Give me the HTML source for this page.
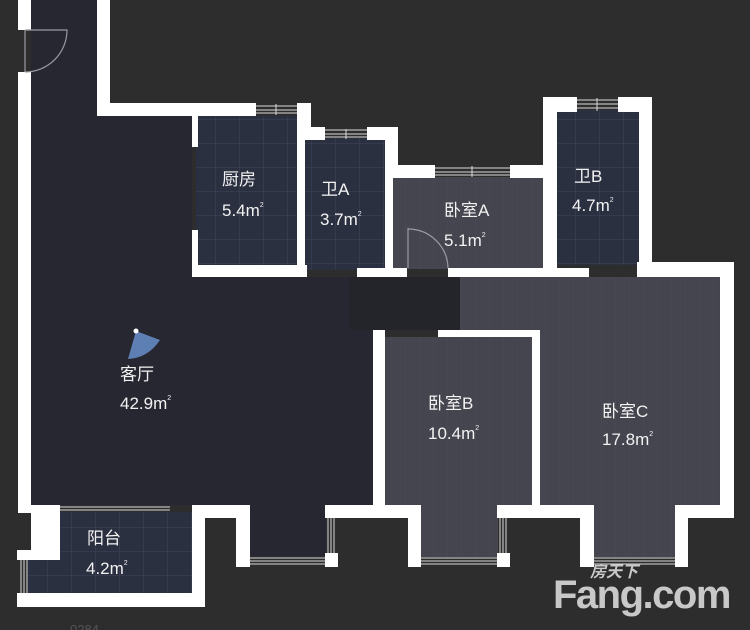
<!DOCTYPE html>
<html><head><meta charset="utf-8"><style>
html,body{margin:0;padding:0;background:#2d2d2e;}
svg{display:block}
text{font-family:"Liberation Sans","Noto Sans CJK SC",sans-serif;fill:#f2f2f2;font-size:17px}
</style></head><body>
<svg width="750" height="630" viewBox="0 0 750 630" xmlns="http://www.w3.org/2000/svg">
<defs>
<pattern id="grid" width="24" height="24" patternUnits="userSpaceOnUse">
<rect width="24" height="24" fill="#2b3041"/>
<path d="M24 0V24M0 24H24" stroke="#3b4052" stroke-width="1.2"/>
</pattern>
<pattern id="wood" width="14" height="40" patternUnits="userSpaceOnUse">
<rect width="14" height="40" fill="#45454f"/>
<path d="M14 0V40" stroke="#4c4c57" stroke-width="1"/>
</pattern>
</defs>
<rect width="750" height="630" fill="#2d2d2e"/>
<path d="M31 0H97V116H192V277H460V330H373V505H250V556H326V505H31Z" fill="#272731"/>
<rect x="31" y="0" width="66" height="116" fill="#272731"/>
<rect x="350" y="277" width="110" height="53" fill="#24242b"/>
<rect x="196" y="116" width="102" height="152" fill="url(#grid)"/>
<rect x="305" y="138" width="82" height="132" fill="url(#grid)"/>
<rect x="557" y="110" width="83" height="155" fill="url(#grid)"/>
<rect x="60" y="512" width="133" height="82" fill="url(#grid)"/>
<rect x="28" y="558" width="34" height="36" fill="url(#grid)"/>
<rect x="392" y="177" width="158" height="92" fill="url(#wood)"/>
<rect x="381" y="337" width="152" height="170" fill="url(#wood)"/>
<rect x="421" y="505" width="77" height="52" fill="url(#wood)"/>
<path d="M460 277H720V505H540V330H460Z" fill="url(#wood)"/>
<rect x="594" y="505" width="82" height="52" fill="url(#wood)"/>
<g fill="#ffffff">
<rect x="18" y="0" width="13" height="30"/>
<rect x="18" y="72" width="13" height="441"/>
<rect x="31" y="505" width="29" height="55"/>
<rect x="17" y="550" width="43" height="10"/>
<rect x="17" y="593" width="188" height="14"/>
<rect x="192" y="505" width="13" height="102"/>
<rect x="205" y="505" width="45" height="13"/>
<rect x="236" y="505" width="14" height="62"/>
<rect x="325" y="505" width="96" height="13"/>
<rect x="325" y="553" width="13" height="14"/>
<rect x="408" y="505" width="13" height="62"/>
<rect x="497" y="505" width="97" height="13"/>
<rect x="497" y="553" width="13" height="14"/>
<rect x="580" y="505" width="14" height="62"/>
<rect x="675" y="505" width="59" height="13"/>
<rect x="675" y="505" width="13" height="62"/>
<rect x="720" y="262" width="14" height="256"/>
<rect x="97" y="0" width="13" height="116"/>
<rect x="97" y="103" width="159" height="13"/>
<rect x="297" y="103" width="14" height="37"/>
<rect x="297" y="103" width="8" height="174"/>
<rect x="297" y="127" width="28" height="13"/>
<rect x="367" y="127" width="31" height="13"/>
<rect x="385" y="127" width="13" height="51"/>
<rect x="385" y="127" width="8" height="150"/>
<rect x="385" y="165" width="50" height="13"/>
<rect x="510" y="165" width="47" height="13"/>
<rect x="543" y="97" width="14" height="180"/>
<rect x="543" y="97" width="34" height="15"/>
<rect x="618" y="97" width="34" height="15"/>
<rect x="639" y="97" width="13" height="178"/>
<rect x="637" y="262" width="97" height="15"/>
<rect x="192" y="116" width="6" height="31"/>
<rect x="192" y="230" width="6" height="47"/>
<rect x="192" y="265" width="115" height="12"/>
<rect x="357" y="268" width="50" height="9"/>
<rect x="448" y="268" width="141" height="9"/>
<rect x="373" y="330" width="12" height="178"/>
<rect x="438" y="330" width="102" height="7"/>
<rect x="532" y="330" width="8" height="178"/>
</g>
<g stroke="#dcdcdc" stroke-width="1" fill="none">
<path d="M256 106H297M256 110H297M256 113H297M276 104V115"/>
<path d="M325 130H367M325 134H367M325 137H367M346 129V139"/>
<path d="M435 168H510M435 172H510M435 175H510M472 166V177"/>
<path d="M577 100H618M577 104H618M577 108H618M597 98V111"/>
<path d="M250 558H325M250 561H325M250 564H325"/>
<path d="M328 518V553M331 518V553M334 518V553"/>
<path d="M421 558H497M421 561H497M421 564H497"/>
<path d="M500 518V553M503 518V553M506 518V553"/>
<path d="M594 558H675M594 561H675M594 564H675"/>
<path d="M60 507H170M60 510H170"/>
<path d="M21 560V593M24 560V593M27 560V593"/>
</g>
<g stroke="#9a9aa2" stroke-width="1.2" fill="none">
<path d="M25 30V72"/><path d="M25 30H67A42 42 0 0 1 25 72"/>
<path d="M408 228V268"/><path d="M408 229A40 40 0 0 1 448 268"/>
</g>
<path d="M136 331L128 359Q148 358 160 340Z" fill="#5e7fb4"/>
<circle cx="136" cy="331" r="2.5" fill="#fff"/>
<text x="222" y="185">厨房</text><text x="222" y="216">5.4m<tspan font-size="7" dy="-9">2</tspan></text>
<text x="321" y="195">卫A</text><text x="320" y="225">3.7m<tspan font-size="7" dy="-9">2</tspan></text>
<text x="444" y="216">卧室A</text><text x="444" y="246">5.1m<tspan font-size="7" dy="-9">2</tspan></text>
<text x="574" y="182">卫B</text><text x="572" y="211">4.7m<tspan font-size="7" dy="-9">2</tspan></text>
<text x="120" y="380">客厅</text><text x="120" y="409">42.9m<tspan font-size="7" dy="-9">2</tspan></text>
<text x="428" y="409">卧室B</text><text x="428" y="439">10.4m<tspan font-size="7" dy="-9">2</tspan></text>
<text x="602" y="417">卧室C</text><text x="602" y="445">17.8m<tspan font-size="7" dy="-9">2</tspan></text>
<text x="87" y="544">阳台</text><text x="86" y="574">4.2m<tspan font-size="7" dy="-9">2</tspan></text>
<text x="590" y="577" style="fill:#c8c8c8;font-size:16px;font-weight:bold;font-style:italic">房天下</text>
<text x="553" y="608" style="fill:#c8c8c8;font-size:40px;font-weight:bold;letter-spacing:-1.5px">Fang.com</text>
<text x="70" y="634" style="fill:#555;font-size:13px">0284</text>
</svg>
</body></html>
